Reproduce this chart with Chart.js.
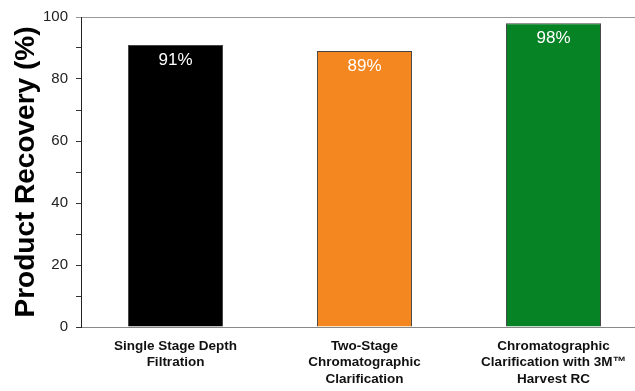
<!DOCTYPE html>
<html>
<head>
<meta charset="utf-8">
<script src="https://cdn.jsdelivr.net/npm/chart.js@4/dist/chart.umd.min.js"></script>
<style>
  html, body { margin: 0; padding: 0; background: #fff; overflow: hidden; }
  #wrap { position: relative; width: 648px; height: 391px; }
</style>
</head>
<body>
<div id="wrap"><canvas id="c"></canvas></div>
<script>
// Product recovery by clarification method
const categories = [
  ['Single Stage Depth', 'Filtration'],
  ['Two-Stage', 'Chromatographic', 'Clarification'],
  ['Chromatographic', 'Clarification with 3M\u2122', 'Harvest RC']
];
const recovery = [91, 89, 98];
const barColors = ['#000000', '#F58720', '#058325'];
const yTicks = [0, 20, 40, 60, 80, 100];

// Writes the value inside each bar, just below its top
const valueLabels = {
  id: 'valueLabels',
  afterDatasetsDraw(chart) {
    const ctx = chart.ctx;
    const meta = chart.getDatasetMeta(0);
    ctx.save();
    ctx.fillStyle = '#ffffff';
    ctx.font = '17px "Liberation Sans", Arial, sans-serif';
    ctx.textAlign = 'center';
    ctx.textBaseline = 'middle';
    meta.data.forEach((bar, i) => {
      ctx.fillText(recovery[i] + '%', bar.x, bar.y + 15);
    });
    ctx.restore();
  }
};

new Chart(document.getElementById('c'), {
  type: 'bar',
  data: {
    labels: categories,
    datasets: [{
      data: recovery,
      backgroundColor: barColors,
      borderColor: '#444444',
      borderWidth: 1,
      categoryPercentage: 1,
      barPercentage: 0.503
    }]
  },
  options: {
    responsive: true,
    maintainAspectRatio: false,
    animation: false,
    layout: { padding: { top: 17, right: 0, left: 0, bottom: 0 } },
    plugins: { legend: { display: false }, tooltip: { enabled: false } },
    scales: {
      x: {
        grid: { display: false, drawTicks: false },
        border: { display: true, color: '#888888', width: 1 },
        ticks: {
          padding: 11,
          color: '#111111',
          font: { family: '"Liberation Sans", Arial, sans-serif', size: 13.5, weight: 'bold', lineHeight: 1.22 },
          maxRotation: 0
        },
        afterFit(scale) { scale.height = 391 - 327; }
      },
      y: {
        min: 0,
        max: 100,
        ticks: {
          stepSize: 10,
          padding: 8,
          color: '#222222',
          font: { family: '"Liberation Sans", Arial, sans-serif', size: 15 },
          callback: (v) => (yTicks.includes(v) ? String(v) : '')
        },
        grid: {
          tickLength: 5,
          color: (c) => (c.tick && c.tick.value === 100 ? '#999999' : 'rgba(0,0,0,0)'),
          tickColor: (c) => (c.tick && c.tick.value === 100 ? '#999999' : '#333333')
        },
        border: { display: true, color: '#222222', width: 1 },
        title: {
          display: true,
          text: 'Product Recovery (%)',
          color: '#000000',
          font: { family: '"Liberation Sans", Arial, sans-serif', size: 28, weight: 'bold' },
          padding: { top: 9, bottom: 0 }
        },
        afterFit(scale) { scale.width = 81; }
      }
    }
  },
  plugins: [valueLabels]
});
</script>
</body>
</html>
